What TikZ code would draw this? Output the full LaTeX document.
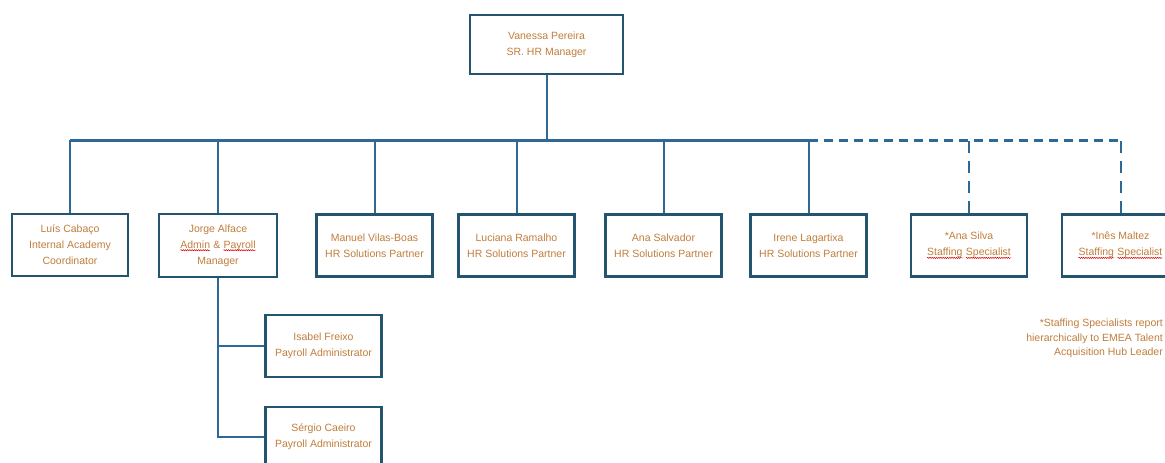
\documentclass[tikz,border=0pt]{standalone}
\usepackage{fontspec}
\setmainfont{Liberation Sans}
\usetikzlibrary{decorations.pathmorphing}
\definecolor{boxc}{RGB}{36,85,112}
\definecolor{linec}{RGB}{46,104,148}
\definecolor{txtc}{RGB}{192,126,60}
\newcommand\sq[1]{\tikz[baseline=(w.base)]{\node[inner sep=0pt,outer sep=0pt,text=txtc,draw=none,fill=none,minimum width=0pt,minimum height=0pt] (w) {#1};\draw[red!85!black,line width=0.5pt,decorate,decoration={snake,amplitude=0.6pt,segment length=2.2pt}] ([yshift=-2pt]w.base west) -- ([yshift=-2pt]w.base east);}}
\tikzset{
  box/.style={draw=boxc, line width=2.8pt, fill=white, minimum width=116pt, minimum height=62pt,
    inner sep=0pt, align=center, text=txtc, font=\fontsize{10.5}{16}\selectfont},
  conn/.style={draw=linec, line width=2pt},
  busline/.style={draw=linec, line width=3pt},
  dashbus/.style={draw=linec, line width=3pt, dash pattern=on 9pt off 6pt},
  dashdrop/.style={draw=linec, line width=2pt, dash pattern=on 12pt off 8pt},
  note/.style={align=right, text=txtc, font=\fontsize{10.5}{14.5}\selectfont, inner sep=0pt}
}
\begin{document}
\begin{tikzpicture}[x=1pt,y=-1pt]
\useasboundingbox[fill=white] (0,0) rectangle (1165,463);
\node[box, minimum width=153pt, minimum height=59pt] (top) at (546.5,44.5) {Vanessa Pereira\\SR. HR Manager};
\node[box] (luis) at (70,245) {Luís Cabaço\\Internal Academy\\Coordinator};
\node[box, minimum width=118pt, minimum height=63pt] (jorge) at (218,245.5) {Jorge Alface\\\sq{Admin} \& \sq{Payroll}\\Manager};
\node[box] (manuel) at (374.5,245.5) {Manuel Vilas-Boas\\HR Solutions Partner};
\node[box] (luciana) at (516.5,245.5) {Luciana Ramalho\\HR Solutions Partner};
\node[box] (anasalv) at (663.5,245.5) {Ana Salvador\\HR Solutions Partner};
\node[box] (irene) at (808.5,245.5) {Irene Lagartixa\\HR Solutions Partner};
\node[box] (anasilva) at (969,245.5) {*Ana Silva\\\sq{Staffing} \sq{Specialist}};
\node[box, minimum width=117pt] (ines) at (1120.5,245.5) {*Inês Maltez\\\sq{Staffing} \sq{Specialist}};
\node[box] (isabel) at (323.5,346) {Isabel Freixo\\Payroll Administrator};
\node[box, minimum height=60pt] (sergio) at (323.5,437) {Sérgio Caeiro\\Payroll Administrator};
\node[note, anchor=north east] (notetxt) at (1163,319) {*Staffing Specialists report\\hierarchically to EMEA Talent\\Acquisition Hub Leader};
\coordinate (busy) at (0,140);
% connectors
\draw[conn] (top.south) -- (top.south |- busy);
\draw[busline] (luis.north |- busy) -- (irene.north |- busy);
\draw[dashbus] (irene.north |- busy) -- (ines.north |- busy);
\foreach \n in {luis,jorge,manuel,luciana,anasalv,irene}
  \draw[conn] (\n.north) -- (\n.north |- busy);
\draw[dashdrop] (anasilva.north) -- (anasilva.north |- busy);
\draw[dashdrop] (ines.north) -- (ines.north |- busy);
\draw[conn] (jorge.south) -- (jorge.south |- sergio.west) -- (sergio.west);
\draw[conn] (jorge.south |- isabel.west) -- (isabel.west);
\end{tikzpicture}
\end{document}
